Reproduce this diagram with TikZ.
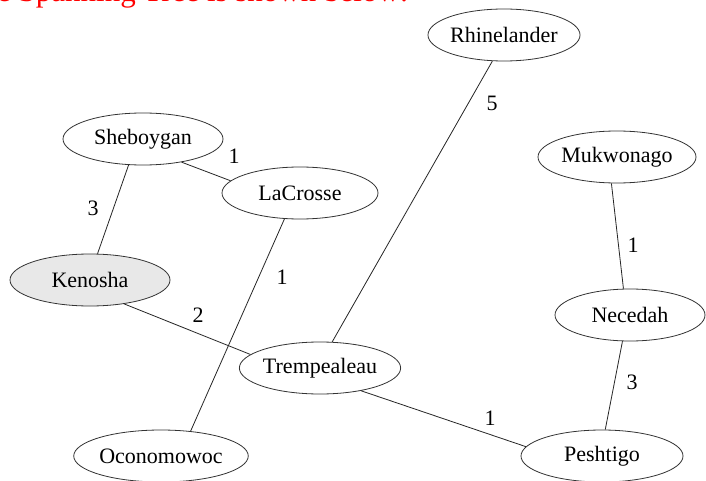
\documentclass[tikz,border=0pt]{standalone}
\usepackage{fontspec}
\setmainfont{Liberation Serif}
\usetikzlibrary{shapes.geometric}
\begin{document}
\begin{tikzpicture}[x=1pt,y=-1pt,
  city/.style={draw=black!80, line width=0.8pt, ellipse, inner sep=0pt,
    minimum width=#1, minimum height=52pt, font=\fontsize{22}{26}\selectfont},
  city/.default=160pt,
  edge/.style={draw=black!85, line width=0.8pt},
  wt/.style={font=\fontsize{22}{26}\selectfont, inner sep=0pt}]
\useasboundingbox (0,0) rectangle (706,481);
\fill[white] (0,0) rectangle (706,481);
\node[anchor=base west, text=red, font=\fontsize{31}{36}\selectfont, inner sep=0pt] (title) at (-3,2) {e Spanning Tree is shown below:};
\node[city=142pt] (rhin) at (504,35) {Rhinelander};
\node[city=158pt] (muk) at (617,157) {Mukwonago};
\node[city=160pt] (sheb) at (143,139) {Sheboygan};
\node[city=156pt] (lac) at (300,193) {LaCrosse};
\node[city=160pt, fill=black!9] (ken) at (90,280) {Kenosha};
\node[city=160pt] (trem) at (320,368) {Trempealeau};
\node[city=150pt] (nec) at (630,315) {Necedah};
\node[city=158pt] (ocon) at (161,456) {Oconomowoc};
\node[city=162pt] (pesh) at (602,456) {Peshtigo};
\draw[edge] (sheb.-31.6) -- (lac.170);
\draw[edge] (sheb.-119) -- (ken.74);
\draw[edge] (lac.-121) -- (ocon.40);
\draw[edge] (ken.-35.5) -- (trem.169);
\draw[edge] (rhin.-114) -- (trem.65);
\draw[edge] (muk.-102.5) -- (nec.104.5);
\draw[edge] (nec.-106.5) -- (pesh.83);
\draw[edge] (trem.-29) -- (pesh.173);
\node[wt] (w1) at (234,156) {1};
\node[wt] (w2) at (93,208) {3};
\node[wt] (w3) at (282,277) {1};
\node[wt] (w4) at (198,315) {2};
\node[wt] (w5) at (492,103) {5};
\node[wt] (w6) at (633,245) {1};
\node[wt] (w7) at (632,382) {3};
\node[wt] (w8) at (490,418) {1};
\end{tikzpicture}
\end{document}
